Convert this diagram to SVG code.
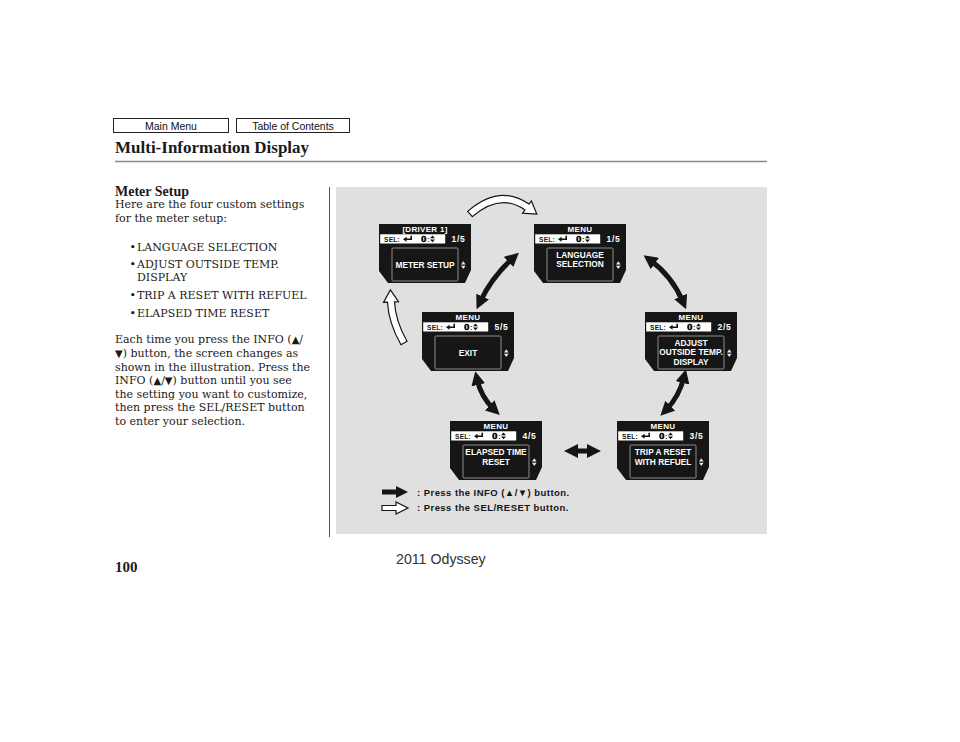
<svg xmlns="http://www.w3.org/2000/svg" xmlns:xlink="http://www.w3.org/1999/xlink" width="960" height="742" viewBox="0 0 960 742">
<style>
.btn{fill:#fff;stroke:#222;stroke-width:1}
.btnt{font-family:"Liberation Sans",Arial,sans-serif;font-size:10.5px;fill:#111;text-anchor:middle}
.body{font-family:"DejaVu Serif",serif;font-size:11px;fill:#1a1a1a}
.tri{font-family:"DejaVu Sans",sans-serif;font-size:10px}
.hd{font-family:"Liberation Sans",Arial,sans-serif;font-weight:bold;font-size:8px;fill:#fff;text-anchor:middle;letter-spacing:0.3px}
.sel{font-family:"Liberation Sans",Arial,sans-serif;font-weight:bold;font-size:6.5px;fill:#111;letter-spacing:0.3px}
.pg{font-family:"Liberation Sans",Arial,sans-serif;font-weight:bold;font-size:8.5px;fill:#fff;text-anchor:middle;letter-spacing:0.8px}
.in{font-family:"Liberation Sans",Arial,sans-serif;font-weight:bold;font-size:8.3px;fill:#fff;text-anchor:middle}
.blk{fill:none;stroke:#151515;stroke-width:5;marker-start:url(#ah);marker-end:url(#ah)}
.wht{fill:#fff;stroke:#151515;stroke-width:1.2;stroke-linejoin:miter}
.leg{font-family:"Liberation Sans",Arial,sans-serif;font-weight:bold;font-size:9.5px;fill:#151515;letter-spacing:0.45px}
</style>
<defs>
<marker id="ah" viewBox="0 0 14 14" refX="6" refY="7" markerWidth="14" markerHeight="14" markerUnits="userSpaceOnUse" orient="auto-start-reverse">
<path d="M0,0 L14,7 L0,14 Z" fill="#151515"/>
</marker>
<g id="scr">
<path d="M0,0 H92 V46 L86,59 H9 L0,47 Z" fill="#161616"/>
<rect x="1.2" y="10.3" width="65" height="9.2" fill="#fff"/>
<rect x="13" y="24" width="66" height="33" rx="1" fill="none" stroke="#8c8c8c" stroke-width="1"/>
<path d="M24,15.3 L27.6,12.8 L27.6,14.6 L31.4,14.6 L31.4,11.8 L33,11.8 L33,16.1 L27.6,16.1 L27.6,17.8 Z" fill="#111"/>
<ellipse cx="44.8" cy="15" rx="2.6" ry="3.3" fill="#111"/>
<rect x="44.3" y="13.2" width="1" height="3.6" fill="#fff"/>
<path d="M51,14.3 L53.5,11.6 L56,14.3 Z M51,15.6 L53.5,18.3 L56,15.6 Z" fill="#111"/>
<path d="M82,40.5 L84.3,37.3 L86.6,40.5 Z M82,41.8 L84.3,45 L86.6,41.8 Z" fill="#e8e8e8"/>
</g>
</defs>

<rect x="0" y="0" width="960" height="742" fill="#fff"/>

<g id="nav">
<rect class="btn" x="113.5" y="118.5" width="115" height="14"/>
<text class="btnt" x="171" y="129.5">Main Menu</text>
<rect class="btn" x="236.5" y="118.5" width="113" height="14"/>
<text class="btnt" x="293" y="129.5">Table of Contents</text>
</g>

<text x="115" y="152.5" font-family="'Liberation Serif','Times New Roman',serif" font-weight="bold" font-size="17" fill="#1a1a1a">Multi-Information Display</text>
<line x1="115" y1="161.5" x2="767" y2="161.5" stroke="#8a8a8a" stroke-width="1.5"/>

<g id="left-text">
<text x="115" y="195.5" font-family="'Liberation Serif','Times New Roman',serif" font-weight="bold" font-size="14" fill="#1a1a1a">Meter Setup</text>
<text class="body" x="115" y="208">Here are the four custom settings</text>
<text class="body" x="115" y="221.5">for the meter setup:</text>
<text class="body" x="129.5" y="251">•</text><text class="body" x="137" y="251">LANGUAGE SELECTION</text>
<text class="body" x="129.5" y="267.5">•</text><text class="body" x="137" y="267.5">ADJUST OUTSIDE TEMP.</text>
<text class="body" x="137" y="281">DISPLAY</text>
<text class="body" x="129.5" y="298.5">•</text><text class="body" x="137" y="298.5">TRIP A RESET WITH REFUEL</text>
<text class="body" x="129.5" y="316.5">•</text><text class="body" x="137" y="316.5">ELAPSED TIME RESET</text>
<text class="body" x="115" y="343">Each time you press the INFO (<tspan class="tri">▲</tspan>/</text>
<text class="body" x="115" y="356.5"><tspan class="tri">▼</tspan>) button, the screen changes as</text>
<text class="body" x="115" y="370.5">shown in the illustration. Press the</text>
<text class="body" x="115" y="384">INFO (<tspan class="tri">▲</tspan>/<tspan class="tri">▼</tspan>) button until you see</text>
<text class="body" x="115" y="397.5">the setting you want to customize,</text>
<text class="body" x="115" y="411">then press the SEL/RESET button</text>
<text class="body" x="115" y="424.5">to enter your selection.</text>
</g>

<line x1="329.5" y1="187" x2="329.5" y2="537" stroke="#555" stroke-width="1"/>
<rect x="336" y="187" width="431" height="347" fill="#e0e0e0"/>

<g id="connectors">
<path class="blk" d="M480,302 Q492,277 513,258"/>
<path class="blk" d="M650,260 Q672,276 683,302"/>
<path class="blk" d="M684,377 Q679,397 666,410"/>
<path class="blk" d="M572,451 L593,451"/>
<path class="blk" d="M477,379 Q481,397 494,409.5"/>
<path class="wht" d="M467.7,211.4 Q499.5,183.6 529,204.1 L531.4,200.9 L536.8,214 L522.6,213.2 L525,209.9 Q500.5,192.4 472.3,216.6 Z"/>
<path class="wht" d="M401,344.7 Q388.6,323.1 387.5,302.2 L383.5,302.4 L390.4,290 L398.5,301.6 L394.5,301.8 Q395.4,320.9 407,341.3 Z"/>
</g>

<g id="node-driver1" transform="translate(379,224)">
<use href="#scr"/>
<text class="hd" x="46" y="8.3">[DRIVER 1]</text>
<text class="sel" x="5" y="17.7">SEL:</text>
<text class="sel" x="48.2" y="17.7">:</text>
<text class="pg" x="79.5" y="18.3">1/5</text>
<text class="in" x="46" y="44.3">METER SETUP</text>
</g>

<g id="node-language" transform="translate(534,224)">
<use href="#scr"/>
<text class="hd" x="46" y="8.3">MENU</text>
<text class="sel" x="5" y="17.7">SEL:</text>
<text class="sel" x="48.2" y="17.7">:</text>
<text class="pg" x="79.5" y="18.3">1/5</text>
<text class="in" x="46" y="33.5">LANGUAGE</text>
<text class="in" x="46" y="43.3">SELECTION</text>
</g>

<g id="node-adjust" transform="translate(645,312)">
<use href="#scr"/>
<text class="hd" x="46" y="8.3">MENU</text>
<text class="sel" x="5" y="17.7">SEL:</text>
<text class="sel" x="48.2" y="17.7">:</text>
<text class="pg" x="79.5" y="18.3">2/5</text>
<text class="in" x="46" y="33.8">ADJUST</text>
<text class="in" x="46" y="43.3">OUTSIDE TEMP.</text>
<text class="in" x="46" y="52.8">DISPLAY</text>
</g>

<g id="node-exit" transform="translate(422,312)">
<use href="#scr"/>
<text class="hd" x="46" y="8.3">MENU</text>
<text class="sel" x="5" y="17.7">SEL:</text>
<text class="sel" x="48.2" y="17.7">:</text>
<text class="pg" x="79.5" y="18.3">5/5</text>
<text class="in" x="46" y="43.5">EXIT</text>
</g>

<g id="node-elapsed" transform="translate(450,421)">
<use href="#scr"/>
<text class="hd" x="46" y="8.3">MENU</text>
<text class="sel" x="5" y="17.7">SEL:</text>
<text class="sel" x="48.2" y="17.7">:</text>
<text class="pg" x="79.5" y="18.3">4/5</text>
<text class="in" x="46" y="34.3">ELAPSED TIME</text>
<text class="in" x="46" y="43.8">RESET</text>
</g>

<g id="node-trip" transform="translate(617,421)">
<use href="#scr"/>
<text class="hd" x="46" y="8.3">MENU</text>
<text class="sel" x="5" y="17.7">SEL:</text>
<text class="sel" x="48.2" y="17.7">:</text>
<text class="pg" x="79.5" y="18.3">3/5</text>
<text class="in" x="46" y="34.3">TRIP A RESET</text>
<text class="in" x="46" y="43.8">WITH REFUEL</text>
</g>

<g id="legend">
<path d="M382,489.5 H396 V486 L408,492 L396,498 V494.5 H382 Z" fill="#151515"/>
<text class="leg" x="417" y="495.5">: Press the INFO (▲/▼) button.</text>
<path class="wht" d="M382,505.5 H396 V502 L408,508 L396,514 V510.5 H382 Z"/>
<text class="leg" x="417" y="511">: Press the SEL/RESET button.</text>
</g>

<text x="115" y="572" font-family="'Liberation Serif','Times New Roman',serif" font-weight="bold" font-size="15" fill="#1a1a1a">100</text>
<text x="396" y="563.5" font-family="'Liberation Sans',Arial,sans-serif" font-size="14.2" fill="#333">2011 Odyssey</text>
</svg>
